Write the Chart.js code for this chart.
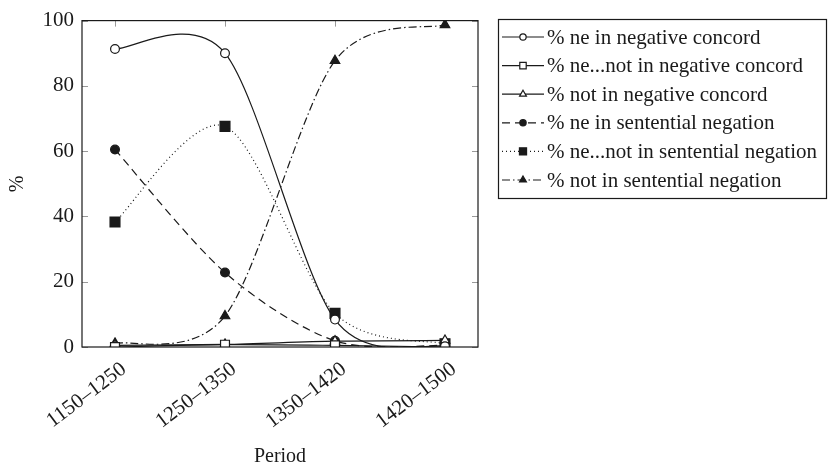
<!DOCTYPE html>
<html>
<head>
<meta charset="utf-8">
<script src="https://cdn.jsdelivr.net/npm/chart.js@4.4.1/dist/chart.umd.min.js"></script>
<style>
  html, body { margin: 0; padding: 0; background: #fff; }
</style>
</head>
<body>
<canvas id="chart" width="829" height="469"></canvas>
<script>
// periods on the x axis
const periods = ['1150–1250', '1250–1350', '1350–1420', '1420–1500'];
const yTicks = [0, 20, 40, 60, 80, 100];

// negative concord
const neNC = [91.3, 90.0, 8.4, 0.2];
const neNotNC = [0, 0.7, 0.5, 0];
const notNC = [0.5, 0.8, 1.8, 2.0];
// sentential negation
const neSN = [60.5, 22.8, 1.9, 0.5];
const neNotSN = [38.3, 67.6, 10.3, 1.0];
const notSN = [1.1, 9.5, 87.7, 98.7];

const FONT = '"Liberation Serif", "Times New Roman", serif';
const INK = '#1a1a1a';
const SMOOTH = 0.15; // pgfplots-style "smooth" factor

const toPts = arr => arr.map((v, i) => ({ x: i, y: v }));

function series(label, values, pointStyle, filled, dash, radius) {
  return {
    label,
    data: toPts(values),
    borderColor: INK,
    borderWidth: 1.2,
    borderDash: dash,
    pointStyle,
    pointRadius: radius,
    pointBorderWidth: 1.2,
    pointBorderColor: INK,
    pointBackgroundColor: filled ? INK : '#fff',
    backgroundColor: filled ? INK : '#fff',
    tension: 0.4,
    capBezierPoints: false,
    fill: false
  };
}

const datasets = [
  series('% ne in negative concord', neNC, 'circle', false, [], 4.4),
  series('% ne...not in negative concord', neNotNC, 'rect', false, [], 6.3),
  series('% not in negative concord', notNC, 'triangle', false, [], 5.5),
  series('% ne in sentential negation', neSN, 'circle', true, [8, 5], 4.4),
  series('% ne...not in sentential negation', neNotSN, 'rect', true, [1, 3], 7),
  series('% not in sentential negation', notSN, 'triangle', true, [8, 3, 1.5, 3], 5.5)
];

// replace chart.js spline weights with tikz-like symmetric ones
const tikzSmooth = {
  id: 'tikzSmooth',
  beforeDatasetsDraw(chart) {
    chart.getSortedVisibleDatasetMetas().forEach(meta => {
      const pts = meta.data;
      meta.dataset.updateControlPoints(chart.chartArea, 'x');
      pts.forEach((p, i) => {
        const prev = pts[i - 1] || p;
        const next = pts[i + 1] || p;
        const dx = next.x - prev.x, dy = next.y - prev.y;
        p.cp1x = p.x - SMOOTH * dx; p.cp1y = p.y - SMOOTH * dy;
        p.cp2x = p.x + SMOOTH * dx; p.cp2y = p.y + SMOOTH * dy;
      });
    });
  }
};

// inner tick marks on all four sides + frame
const frame = {
  id: 'frame',
  beforeDatasetsDraw(chart) {
    const { ctx, chartArea: a, scales } = chart;
    ctx.save();
    ctx.strokeStyle = '#999';
    ctx.lineWidth = 1;
    ctx.beginPath();
    yTicks.forEach(v => {
      const y = Math.round(scales.y.getPixelForValue(v)) + 0.5;
      ctx.moveTo(a.left, y); ctx.lineTo(a.left + 6, y);
      ctx.moveTo(a.right, y); ctx.lineTo(a.right - 6, y);
    });
    periods.forEach((p, i) => {
      const x = Math.round(scales.x.getPixelForValue(i)) + 0.5;
      ctx.moveTo(x, a.top); ctx.lineTo(x, a.top + 6);
      ctx.moveTo(x, a.bottom); ctx.lineTo(x, a.bottom - 6);
    });
    ctx.stroke();
    ctx.restore();
  },
  afterDraw(chart) {
    const { ctx, chartArea: a } = chart;
    ctx.save();
    ctx.strokeStyle = INK;
    ctx.lineWidth = 1.2;
    ctx.strokeRect(a.left, a.top, a.right - a.left, a.bottom - a.top);
    ctx.restore();
  }
};

// pgfplots-like legend box with line samples
const legendBox = {
  id: 'legendBox',
  afterDraw(chart) {
    const { ctx } = chart;
    const x0 = 498, y0 = 19, x1 = 826, y1 = 198;
    ctx.save();
    ctx.fillStyle = '#fff';
    ctx.fillRect(x0, y0, x1 - x0, y1 - y0);
    ctx.strokeStyle = INK;
    ctx.lineWidth = 1.2;
    ctx.strokeRect(x0 + 0.5, y0 + 0.5, x1 - x0, y1 - y0);
    chart.data.datasets.forEach((ds, i) => {
      const y = 37 + i * 28.6;
      ctx.setLineDash(ds.borderDash);
      ctx.lineWidth = 1.2;
      ctx.strokeStyle = INK;
      ctx.beginPath();
      ctx.moveTo(502, y); ctx.lineTo(544, y);
      ctx.stroke();
      ctx.setLineDash([]);
      ctx.fillStyle = ds.pointBackgroundColor;
      Chart.helpers.drawPoint(ctx, {
        pointStyle: ds.pointStyle,
        radius: ds.pointRadius * 0.72,
        borderWidth: 1
      }, 523, y);
      ctx.fillStyle = INK;
      ctx.font = '21px ' + FONT;
      ctx.textBaseline = 'middle';
      ctx.fillText(ds.label, 547, y + 1);
    });
    ctx.restore();
  }
};

new Chart(document.getElementById('chart'), {
  type: 'line',
  data: { datasets },
  plugins: [tikzSmooth, frame, legendBox],
  options: {
    responsive: false,
    animation: false,
    devicePixelRatio: 1,
    layout: { padding: { top: 19, right: 351, left: 0, bottom: 0 } },
    plugins: { legend: { display: false }, tooltip: { enabled: false } },
    scales: {
      x: {
        type: 'linear',
        min: -0.3,
        max: 3.3,
        afterBuildTicks: s => { s.ticks = periods.map((p, i) => ({ value: i })); },
        afterFit: s => { s.height = 122; },
        grid: { display: false, drawTicks: false },
        border: { display: false },
        ticks: {
          callback: v => periods[v],
          minRotation: 37,
          maxRotation: 37,
          padding: 10,
          labelOffset: 9,
          color: INK,
          font: { family: FONT, size: 21 }
        },
        title: {
          display: true,
          text: 'Period',
          color: INK,
          padding: { top: 0, bottom: 0 },
          font: { family: FONT, size: 20 }
        }
      },
      y: {
        min: 0,
        max: 100,
        afterBuildTicks: s => { s.ticks = yTicks.map(v => ({ value: v })); },
        afterFit: s => { s.width = 82; },
        grid: { display: false, drawTicks: false },
        border: { display: false },
        ticks: {
          padding: 8,
          color: INK,
          font: { family: FONT, size: 21 }
        },
        title: {
          display: true,
          text: '%',
          color: INK,
          padding: { top: 6, bottom: 0 },
          font: { family: FONT, size: 20 }
        }
      }
    }
  }
});
</script>
</body>
</html>
